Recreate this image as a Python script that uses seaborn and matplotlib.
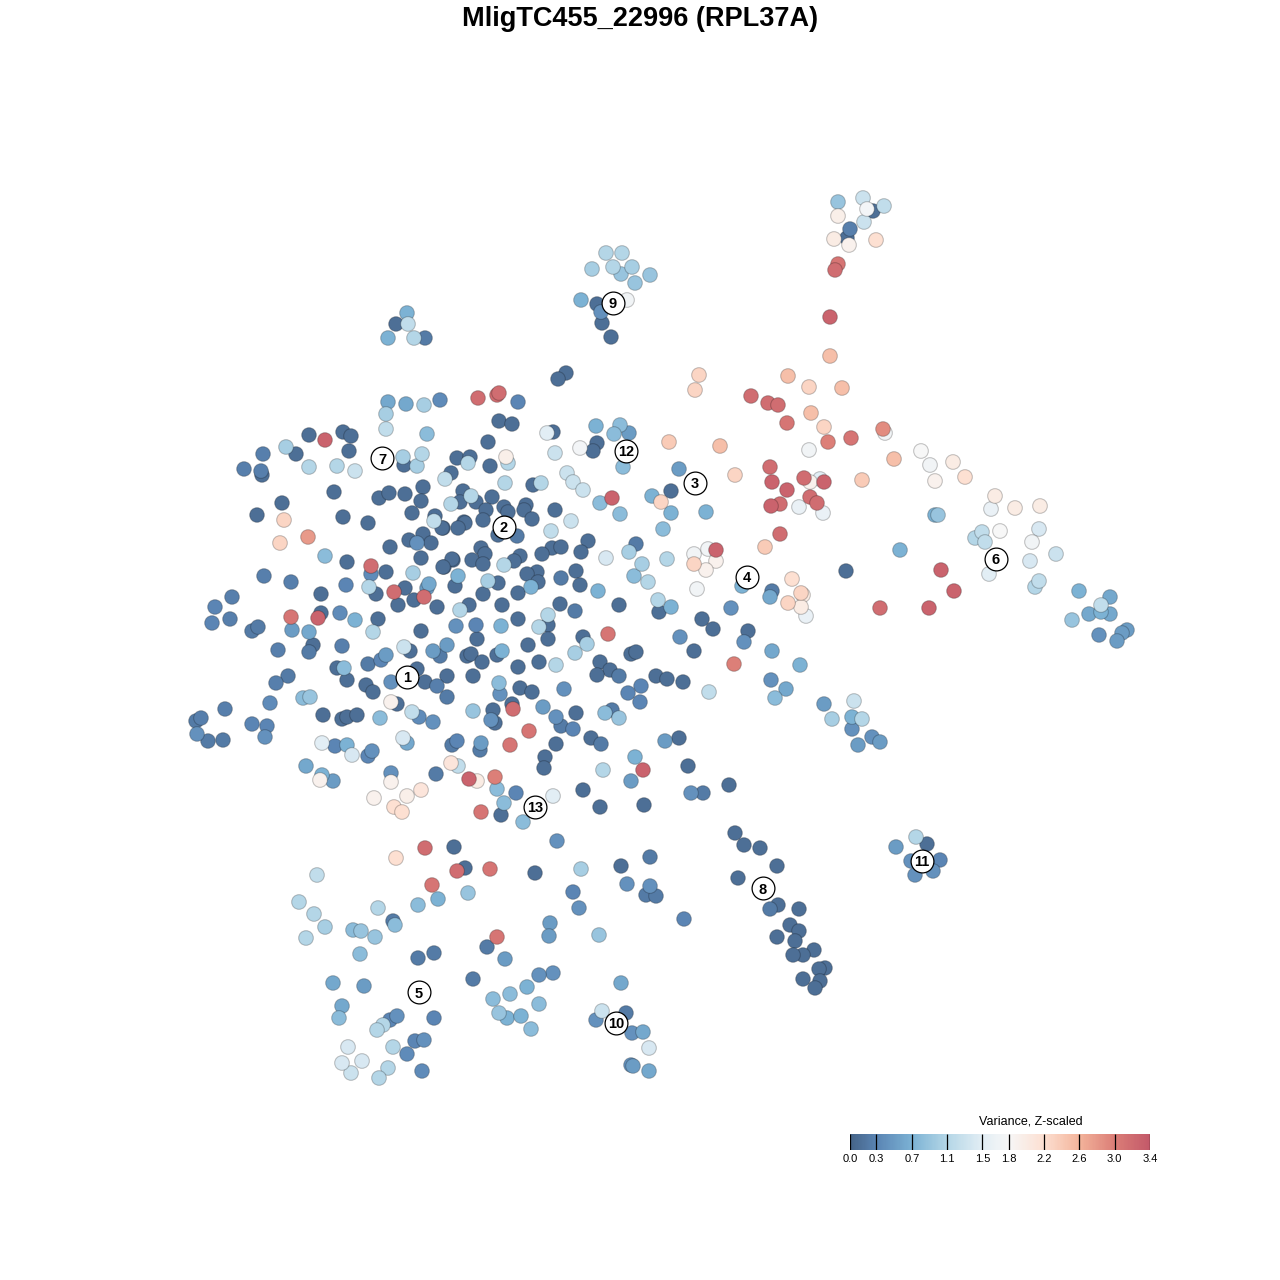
import numpy as np
import pandas as pd
import seaborn as sns
import matplotlib.pyplot as plt
from matplotlib.colors import LinearSegmentedColormap

top_right = [(873,211,.1),(850,229,.25),(847,238,.1),(863,198,1.3),(884,206,1.2),(838,202,.9),(867,209,1.75),
             (838,216,1.95),(864,222,1.3),(834,239,2.0),(849,245,1.9),(876,240,2.2),(838,264,3.1),(835,270,3.2),
             (830,317,3.3),(830,356,2.5)]
cluster_9 = [(606,253,1.1),(622,253,1.1),(592,269,1.0),(613,267,1.1),(632,267,1.0),(621,274,.9),(650,275,.9),
             (635,283,.9),(581,300,.7),(597,304,.1),(627,300,1.7),(601,312,.4),(602,323,.1),(611,337,.1)]
small_top = [(407,313,.7),(396,324,.1),(408,324,1.2),(388,338,.7),(414,338,1.1),(425,338,.2),(566,373,.1),(558,379,.1)]
right_arm = [(699,375,2.3),(695,390,2.3),(788,376,2.5),(809,387,2.3),(842,388,2.5),(751,396,3.2),(768,403,3.2),
             (778,405,3.2),(811,413,2.5),(787,423,3.1),(824,427,2.3),(883,429,2.9),(885,433,1.7),(828,442,3.0),
             (851,438,3.1),(809,450,1.7),(720,446,2.5),(669,442,2.4),(894,459,2.5),(921,451,1.8),(930,465,1.7),
             (953,462,2.0),(965,477,2.2),(935,481,1.9),(862,480,2.4),(770,467,3.2),(772,482,3.3),(787,490,3.3),
             (804,478,3.2),(820,479,1.5),(824,482,3.3),(810,482,1.9),(810,497,3.2),(817,503,3.2),(771,506,3.3),
             (780,504,3.2),(799,507,1.6),(823,513,1.6),(735,475,2.3),(780,534,3.2),(765,547,2.4),(995,496,2.0),
             (1015,508,2.0),(1040,506,2.0),(991,509,1.6),(1039,529,1.4),(1000,531,1.8),(982,532,1.2),(975,538,1.1),
             (985,542,1.2),(1032,542,1.7),(1056,554,1.3),(935,515,.7),(938,515,.9),(900,550,.7),(846,571,.1),
             (941,570,3.3),(954,591,3.3),(880,608,3.2),(929,608,3.3),(989,574,1.5),(1030,561,1.4),(1039,581,1.2),
             (1035,587,1.1),(1079,591,.7),(1110,597,.6),(1101,605,1.2),(1089,614,.6),(1101,612,.7),(1110,614,.6),
             (1072,620,.9),(1127,630,.5),(1122,633,.5),(1099,635,.4),(1117,641,.5)]
middle_right = [(694,554,1.7),(708,549,1.7),(716,550,3.3),(716,561,1.9),(694,564,2.3),(706,570,1.9),(697,589,1.7),
                (742,586,.7),(772,591,.2),(770,597,.6),(792,579,2.2),(801,593,2.3),(803,595,2.0),(788,603,2.3),
                (801,607,2.0),(806,616,1.6),(731,608,.4),(702,619,.1),(713,629,.1),(748,631,.1),(744,642,.4),
                (680,637,.4),(694,651,.1),(772,651,.6),(734,664,3.0),(800,665,.7),(771,680,.4),(786,689,.6),
                (775,698,.8),(709,692,1.2),(824,704,.5),(854,701,1.3),(832,719,1.0),(852,717,.7),(862,719,1.1),
                (852,729,.4),(872,737,.4),(880,742,.5),(858,745,.5)]
main_upper = [(478,398,3.2),(497,395,3.2),(499,393,3.2),(518,402,.3),(440,400,.35),(499,421,.1),(512,424,.1),
              (488,442,.1),(553,432,.1),(547,433,1.5),(596,426,.7),(620,425,.8),(614,434,.8),(629,433,.5),
              (597,443,.1),(593,451,.1),(580,448,1.75),(555,453,1.3),(457,458,.1),(470,457,.1),(468,463,1.1),
              (506,457,1.95),(508,463,1.1),(490,466,.1),(623,467,.8),(679,469,.5),(451,473,.1),(445,479,1.2),
              (567,473,1.3),(573,482,1.3),(583,490,1.3),(533,485,.1),(541,483,1.1),(505,483,1.1),(671,491,.1),
              (652,496,.7),(661,502,2.3),(600,503,.8),(612,498,3.3),(671,513,.7),(620,514,.8),(706,512,.7),
              (463,491,.1),(471,496,1.1),(460,502,.1),(476,502,.1),(451,504,1.1),(492,497,.1),(486,510,.1),
              (504,507,.1),(508,512,.1),(526,505,.1),(524,510,.1),(555,510,.1),(532,519,.1),(483,520,.1),
              (464,522,.1),(465,523,.1),(458,528,.1),(443,528,.1),(571,521,1.3),(551,531,1.2),(663,529,.8),
              (498,535,.1),(517,536,.2),(588,541,.1),(636,544,.2),(629,552,1.0),(581,552,.1),(552,548,.1),
              (561,547,.1),(542,554,.1),(520,556,.1),(514,561,.1),(481,548,.1),(485,554,.1),(472,560,.1),
              (483,564,.1),(453,560,.1),(444,567,.1),(504,565,1.1),(537,572,.1),(527,574,.1),(538,582,.1),
              (531,587,.7),(458,576,.7),(455,586,.1),(488,581,1.0),(498,583,.1),(483,594,.1),(518,593,.1),
              (561,578,.2),(576,571,.1),(580,585,.1),(606,558,1.4),(642,564,1.0),(634,576,.8),(648,582,1.1),
              (598,591,.7),(667,559,1.1),(619,605,.1),(658,600,1.1),(659,612,.1),(671,607,.7),(469,605,.1),
              (460,610,1.1),(502,605,.1),(560,604,.1),(575,611,.2),(548,615,1.1),(548,625,.1),(539,627,1.1),
              (518,619,.1),(501,626,.7),(476,625,.3),(456,626,.4),(477,639,.1),(447,645,.5),(467,656,.1),
              (471,654,.1),(497,655,.1),(502,651,.7),(528,645,.1),(548,639,.1),(583,637,.1),(587,644,1.0),
              (575,653,1.0),(608,634,3.1),(631,654,.1),(636,652,.1)]
main_lower = [(482,662,.1),(539,662,.1),(518,667,.1),(556,665,1.1),(600,662,.1),(610,670,.1),(597,675,.1),
              (619,676,.2),(656,676,.1),(667,679,.1),(683,682,.1),(473,676,.1),(641,686,.3),(628,693,.3),
              (640,702,.3),(499,683,.8),(500,694,.4),(520,688,.1),(532,692,.1),(564,689,.4),(512,704,.1),
              (513,709,3.2),(493,710,.1),(491,720,.4),(495,723,.1),(473,711,.9),(543,707,.5),(576,713,.1),
              (556,717,.4),(561,726,.2),(573,729,.3),(612,710,.2),(605,713,.8),(619,718,.9),(529,731,3.1),
              (591,738,.1),(601,744,.2),(665,741,.5),(679,738,.1),(481,743,.5),(480,750,.2),(510,745,3.1),
              (556,744,.1),(545,757,.1),(544,768,.1),(635,757,.7),(603,770,1.1),(643,770,3.3),(688,766,.1),
              (631,781,.5),(729,785,.1),(691,793,.4),(703,793,.2),(583,790,.1),(553,796,1.5),(516,793,.3),
              (495,777,3.0),(497,789,.8),(469,779,3.3),(477,781,2.0),(504,803,.8),(501,815,.1),(481,812,3.1),
              (523,822,.8),(600,807,.1),(644,805,.1),(557,841,.4)]
main_left = [(388,402,.6),(406,404,.6),(424,405,1.0),(386,414,1.0),(386,429,1.2),(427,434,.8),(309,435,.1),
             (325,440,3.3),(343,432,.1),(351,436,.1),(286,447,1.0),(263,454,.25),(296,454,.1),(349,451,.1),
             (244,469,.25),(261,471,.25),(262,475,.1),(309,467,1.1),(337,466,1.1),(355,471,1.3),(403,457,1.0),
             (422,454,1.1),(404,465,.1),(417,466,1.0),(334,492,.1),(379,498,.1),(389,493,.1),(405,494,.1),
             (423,487,.1),(421,501,.1),(412,513,.1),(282,503,.1),(257,515,.1),(284,520,2.3),(343,517,.1),
             (368,523,.1),(435,516,.1),(434,521,1.2),(442,528,.1),(280,543,2.3),(308,537,2.8),(390,547,.1),
             (409,540,.1),(423,534,.1),(417,543,.4),(431,543,.1),(325,556,.8),(347,562,.1),(421,558,.1),
             (452,559,.1),(443,567,.1),(371,566,3.2),(371,574,.35),(386,572,.1),(413,573,1.0),(264,576,.25),
             (291,582,.25),(346,585,.3),(369,587,1.1),(376,594,.1),(394,592,3.2),(405,588,.1),(429,584,.6),
             (427,588,.5),(424,597,3.2),(321,594,.1),(232,597,.25),(215,607,.3),(398,605,.1),(414,600,.1),
             (437,607,.1),(212,623,.3),(230,619,.25),(291,617,3.1),(321,613,.1),(318,618,3.3),(340,613,.35),
             (355,620,.7),(378,619,.1),(252,631,.2),(258,627,.2),(292,630,.5),(309,632,.6),(373,632,1.1),
             (421,631,.1),(278,650,.25),(313,645,.1),(309,652,.2),(342,646,.25),(404,647,1.3),(410,651,.1),
             (433,651,.5),(440,656,.2),(386,655,.5),(381,660,.3),(368,664,.2),(337,668,.1),(344,668,.8),
             (288,676,.2),(276,683,.25),(347,680,.1),(417,669,.1),(391,682,.4),(366,685,.1),(373,692,.1),
             (425,682,.1),(437,686,.25),(447,676,.1),(447,697,.2),(391,702,1.9),(397,704,.1),(412,712,1.2),
             (419,717,.35),(433,722,.4),(225,709,.25),(270,703,.35),(303,698,.8),(310,697,.9),(201,718,.25),
             (196,721,.2),(197,734,.4),(208,741,.2),(223,740,.2),(252,724,.3),(267,726,.3),(265,737,.4),
             (323,715,.1),(342,719,.1),(347,717,.1),(357,715,.1),(380,718,.8),(322,743,1.5),(335,746,.3),
             (347,745,.7),(352,755,1.4),(368,756,.3),(372,751,.4),(403,738,1.4),(407,743,.6),(452,745,.2),
             (457,741,.3),(306,766,.6),(322,775,.7),(320,780,1.9),(333,781,.5),(391,773,.4),(391,782,1.9),
             (436,774,.2),(451,763,2.1),(458,766,1.2),(374,798,1.9),(407,796,1.95),(421,790,2.1),(394,807,2.2),
             (402,812,2.2)]
bottom = [(454,847,.1),(425,848,3.2),(396,858,2.2),(465,868,.1),(457,871,3.2),(490,869,3.1),(432,885,3.1),
          (535,873,.1),(581,869,1.0),(621,866,.1),(650,857,.2),(627,884,.4),(650,886,.4),(646,895,.2),(656,896,.2),
          (573,892,.3),(579,908,.4),(468,893,.9),(438,899,.7),(418,905,.8),(317,875,1.2),(299,902,1.1),(314,914,1.1),
          (325,927,1.0),(306,938,1.1),(378,908,1.1),(393,921,.2),(395,925,.8),(353,930,.8),(361,931,.9),(375,937,.9),
          (360,954,.8),(550,923,.5),(549,936,.5),(599,935,.9),(684,919,.3),(497,937,3.1),(487,947,.2),(434,953,.2),
          (418,958,.2),(505,959,.5),(553,973,.4),(539,975,.4),(473,979,.2),(527,987,.7),(510,994,.8),(493,999,.8),
          (539,1004,.8),(333,983,.6),(364,986,.5),(621,983,.6),(342,1006,.6),(339,1018,.8),(499,1013,.9),(507,1018,.7),
          (521,1016,.7),(531,1029,.8),(397,1016,.4),(390,1020,.3),(434,1018,.3),(383,1025,1.1),(377,1030,1.1),
          (602,1011,1.3),(626,1013,.2),(596,1020,.4),(632,1033,.4),(643,1032,.6),(649,1048,1.4),(393,1047,1.1),
          (415,1041,.3),(424,1040,.4),(407,1054,.35),(348,1047,1.4),(342,1063,1.4),(362,1061,1.4),(351,1073,1.3),
          (388,1068,1.1),(379,1078,1.1),(422,1071,.35),(631,1065,.4),(633,1066,.5),(649,1071,.6)]
cluster_8 = [(735,833,.1),(744,845,.1),(760,848,.1),(777,866,.1),(738,878,.1),(778,905,.1),(799,909,.1),(770,909,.2),
             (790,925,.1),(799,931,.1),(777,937,.1),(795,941,.1),(814,950,.1),(803,955,.1),(793,955,.1),(825,968,.1),
             (819,969,.1),(803,979,.1),(820,981,.1),(815,988,.1)]
cluster_11 = [(916,837,1.1),(927,844,.1),(896,847,.5),(911,861,.4),(940,860,.3),(933,871,.4),(915,875,.4)]

# Cluster numbers
label_names = ["1","2","3","4","5","6","7","8","9","10","11","12","13"]
label_x = [407,504,695,747,419,996,382,763,613,616,922,626,535]
label_y = [677,527,483,577,992,559,458,888,303,1023,861,451,807]

# Colour scale
bar_ticks = [0.0,0.3,0.7,1.1,1.5,1.8,2.2,2.6,3.0,3.4]
bar_colors = ["#466488","#5b86b5","#7db3d5","#b5d7e7","#e3eef5","#f7f7f7","#fde0d2","#f4b59c","#dc7f78","#c45a6a"]

title = "MligTC455_22996 (RPL37A)"

sns.set_style("white", {"text.color": "black", "xtick.color": "black"})
plt.rcParams["font.family"] = ["Liberation Sans", "DejaVu Sans"]
cmap = LinearSegmentedColormap.from_list("variance", [(t/3.4, c) for t, c in zip(bar_ticks, bar_colors)])

cells = pd.DataFrame(top_right+cluster_9+small_top+right_arm+middle_right+main_upper+main_lower+main_left+bottom
                     +cluster_8+cluster_11, columns=["x","y","var"])
# Higher variance is drawn on top
cells = cells.sort_values("var", kind="stable")

fig = plt.figure(figsize=(12.8,12.8), dpi=100)
ax = fig.add_axes([0,0,1,1])
sns.scatterplot(data=cells, x="x", y="y", hue="var", palette=cmap, hue_norm=(0,3.4), s=112,
                edgecolor=(0,0,0,0.22), linewidth=0.8, legend=False, ax=ax)
ax.set_xlim(0,1280)
ax.set_ylim(1280,0)
ax.axis("off")

ax.scatter(label_x, label_y, s=270, c="white", edgecolors="black", linewidths=0.9, zorder=5)
for name, lx, ly in zip(label_names, label_x, label_y):
    ax.text(lx, ly, name, ha="center", va="center_baseline", fontsize=10.5, fontweight="bold", color="black", zorder=6)

ax.text(640, 19.5, title, ha="center", va="center", fontsize=19.5, fontweight="bold", color="black")

# Colour bar at the lower right
cax = fig.add_axes([850/1280, 1-1150/1280, 300/1280, 16/1280])
cax.imshow(np.linspace(0,3.4,300).reshape(1,-1), cmap=cmap, aspect="auto", extent=(0,3.4,0,1))
cax.vlines(bar_ticks, 0, 1, color="black", linewidth=0.9)
cax.set_xlim(0,3.4)
cax.set_ylim(0,1)
cax.set_yticks([])
cax.set_xticks(bar_ticks)
cax.set_xticklabels([f"{t:.1f}" for t in bar_ticks], fontsize=8, color="black")
cax.tick_params(axis="x", length=0, pad=3)
sns.despine(ax=cax, left=True, bottom=True)
cax.set_title("Variance, Z-scaled", fontsize=9, pad=6.5, x=0.603, color="black")

fig.savefig("out.png", dpi=100)
